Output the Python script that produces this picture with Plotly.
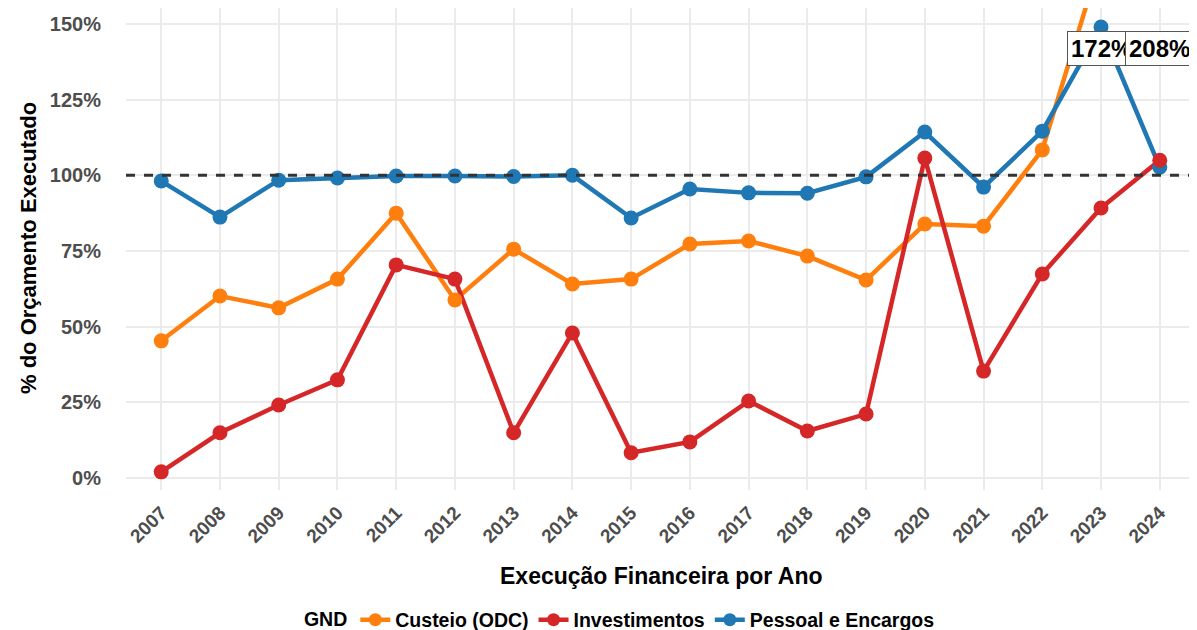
import plotly.graph_objects as go

years = list(range(2007, 2025))
custeio = [45.3, 60.1, 56.2, 65.7, 87.5, 58.8, 75.6, 64.1, 65.7, 77.3, 78.3, 73.3, 65.4, 83.9, 83.2, 108.4, 172.0, 208.0]
investimentos = [2.0, 14.9, 24.1, 32.4, 70.4, 65.7, 14.9, 47.9, 8.3, 11.9, 25.4, 15.5, 21.1, 105.7, 35.3, 67.4, 89.2, 105.0]
pessoal = [98.1, 86.2, 98.4, 99.1, 99.8, 99.8, 99.6, 100.0, 85.9, 95.5, 94.2, 94.1, 99.5, 114.3, 96.1, 114.6, 149.0, 102.7]

series = [
    ("Custeio (ODC)", custeio, "#ff7f0e"),
    ("Investimentos", investimentos, "#d62728"),
    ("Pessoal e Encargos", pessoal, "#1f77b4"),
]

y_ticks = [0, 25, 50, 75, 100, 125, 150]
y_max_shown = 150
label_y = 142

fig = go.Figure()

for name, vals, col in series:
    fig.add_trace(go.Scatter(x=years, y=vals, mode="lines", line=dict(color=col, width=4.5),
                             showlegend=False, hoverinfo="skip"))
for name, vals, col in [series[2], series[0], series[1]]:
    fig.add_trace(go.Scatter(x=years, y=vals, mode="markers", marker=dict(color=col, size=15),
                             showlegend=False, name=name))
for name, vals, col in series:
    fig.add_trace(go.Scatter(x=[None], y=[None], mode="lines+markers", name=f"<b>{name}</b>",
                             line=dict(color=col, width=4.5), marker=dict(color=col, size=13)))

fig.add_hline(y=100, line=dict(color="#333333", width=3, dash="dash"))

for yr, v in zip(years, custeio):
    if v > y_max_shown:
        fig.add_annotation(x=yr, y=label_y, text=f"<b>{v:.0f}%</b>", showarrow=False,
                           font=dict(size=24, color="black", family="Liberation Sans, Arial"),
                           bgcolor="white", bordercolor="#555555", borderwidth=1, borderpad=3)

fig.update_layout(
    width=1197, height=630,
    paper_bgcolor="white", plot_bgcolor="white",
    margin=dict(l=118, r=10, t=0, b=148, autoexpand=False),
    font=dict(family="Liberation Sans, Arial", color="#4d4d4d"),
    showlegend=True,
    legend=dict(orientation="h", x=0.463, xanchor="center", y=-0.2697, yanchor="middle",
                title=dict(text="<b>GND</b>", font=dict(size=19.5, color="black")),
                font=dict(size=19.5, color="black", family="Liberation Sans, Arial"),
                itemwidth=30),
)

fig.update_xaxes(
    range=[2006.4, 2024.6], tickmode="array", tickvals=years,
    ticktext=[f"<b>{y}</b>" for y in years], tickangle=-45,
    tickfont=dict(size=19, color="#4d4d4d"), automargin=False, ticklabelstandoff=7,
    showgrid=True, gridcolor="#ebebeb", gridwidth=1.5, zeroline=False, showline=False,
)
fig.update_yaxes(
    range=[-4, 155.3], tickmode="array", tickvals=y_ticks,
    ticktext=[f"<b>{v}%</b>" for v in y_ticks], automargin=False,
    tickfont=dict(size=20, color="#4d4d4d"), ticklabelstandoff=24,
    showgrid=True, gridcolor="#ebebeb", gridwidth=1.5, zeroline=False, showline=False,
)

fig.add_annotation(xref="paper", yref="paper", x=0.5005, y=-0.1784, yanchor="middle",
                   text="<b>Execução Financeira por Ano</b>", showarrow=False,
                   font=dict(size=23, color="black"))
fig.add_annotation(xref="paper", yref="paper", x=-0.0917, y=0.502,
                   xanchor="center", yanchor="middle", textangle=-90,
                   text="<b>% do Orçamento Executado</b>", showarrow=False,
                   font=dict(size=22, color="black"))

fig.write_html("out.html")
